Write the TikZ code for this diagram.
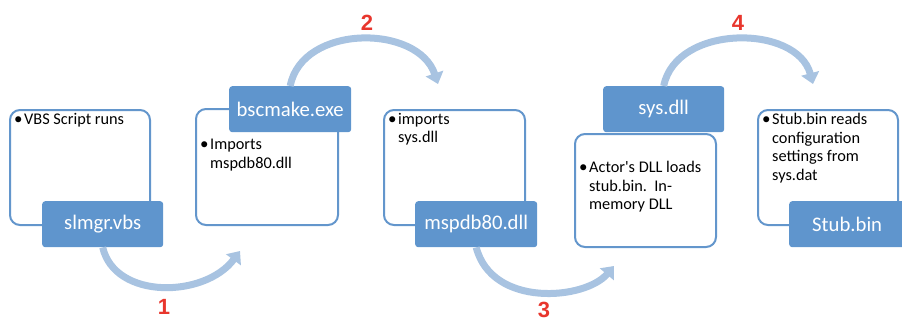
\documentclass[tikz,border=0pt]{standalone}
\usepackage{fontspec}
\setmainfont{Carlito}
\newfontfamily\numfont{Liberation Sans}
\usetikzlibrary{arrows.meta}
\definecolor{boxblue}{HTML}{5F95CD}
\definecolor{lineblue}{HTML}{6396CC}
\definecolor{arrblue}{HTML}{A8C3E1}
\definecolor{numred}{HTML}{E8362D}
\tikzset{
  outbox/.style={draw=lineblue, line width=2pt, rounded corners=10pt, fill=white, anchor=north west, inner sep=0pt},
  fillbox/.style={fill=boxblue, rounded corners=3pt, anchor=north west, inner sep=0pt, text=white, font=\fontsize{20.7}{24}\selectfont},
  bodytext/.style={anchor=north west, inner sep=0pt, align=left, font=\fontsize{16.3}{18.5}\selectfont},
  flow/.style={draw=arrblue, line width=7pt, -{Triangle[width=18pt,length=11pt]}},
  num/.style={text=numred, inner sep=0pt, font=\numfont\bfseries\fontsize{22}{22}\selectfont}
}
\newcommand{\bul}{\makebox[10pt][l]{\fontsize{17}{18}\selectfont\raisebox{-0.3pt}{\textbullet}}}
\newcommand{\ind}{\hspace*{10pt}}
\begin{document}
\begin{tikzpicture}[x=1pt,y=-1pt]
\useasboundingbox (0,0) rectangle (902,321);
\clip (0,0) rectangle (902,321);
% free arrow ends
\coordinate (e1) at (240,251);
\coordinate (e2) at (438,84);
\coordinate (e3) at (614,266);
\coordinate (e4) at (813,84);
% outline boxes
\node[outbox, minimum width=140pt, minimum height=115pt] (o1) at (9,109) {};
\node[outbox, minimum width=142pt, minimum height=116pt] (o2) at (195,108) {};
\node[outbox, minimum width=141pt, minimum height=115pt] (o3) at (383,109) {};
\node[outbox, minimum width=141pt, minimum height=113pt] (o4) at (574,133) {};
\node[outbox, minimum width=140pt, minimum height=115pt] (o5) at (757,109) {};
% filled boxes
\node[fillbox, minimum width=121pt, minimum height=46pt] (s1) at (42,201) {slmgr.vbs};
\node[fillbox, minimum width=122pt, minimum height=46pt] (s2) at (229,86) {bscmake.exe};
\node[fillbox, minimum width=122pt, minimum height=46pt] (s3) at (415,201) {mspdb80.dll};
\node[fillbox, minimum width=121pt, minimum height=46pt] (s4) at (603,86) {sys.dll};
\node[fillbox, minimum width=116pt, minimum height=46pt] (s5) at (789,201) {Stub.bin};
% arrows
\draw[flow] (s1.south) .. controls (115,300) and (205,298) .. (e1);
\draw[flow] (s2.north) .. controls (302,24) and (418,24) .. (e2);
\draw[flow] (s3.south) .. controls (492,308) and (585,300) .. (e3);
\draw[flow] (s4.north) .. controls (676,24) and (797,24) .. (e4);
% body texts
\node[bodytext] (t1) at (14,113) {\bul VBS Script runs};
\node[bodytext] (t2) at (200,139) {\bul Imports\\\ind mspdb80.dll};
\node[bodytext] (t3) at (388,113) {\bul imports\\\ind sys.dll};
\node[bodytext] (t4) at (579,161) {\bul Actor\textquotesingle s DLL loads\\\ind stub.bin.\ \ In-\\\ind memory DLL};
\node[bodytext] (t5) at (762,113) {\bul Stub.bin reads\\\ind configuration\\\ind settings from\\\ind sys.dat};
% numbers
\node[num] (n1) at (164,307) {1};
\node[num] (n2) at (367,23) {2};
\node[num] (n3) at (544,310) {3};
\node[num] (n4) at (738,23) {4};
\end{tikzpicture}
\end{document}
